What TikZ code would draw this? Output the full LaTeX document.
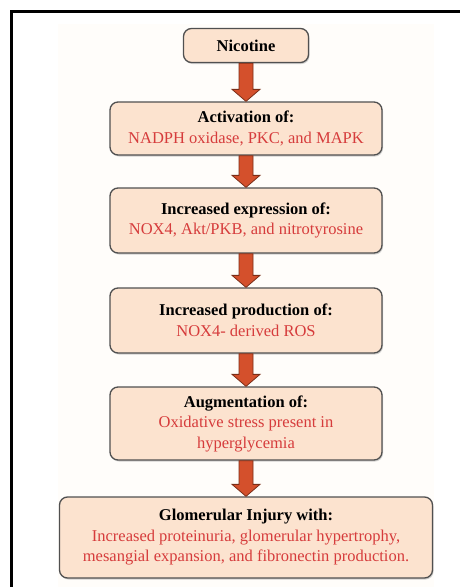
\documentclass[tikz,border=0pt]{standalone}
\usepackage{fontspec}
\setmainfont{Liberation Serif}
\usetikzlibrary{calc,shadows}
\definecolor{boxfill}{HTML}{FCE3CF}
\definecolor{boxline}{HTML}{505050}
\definecolor{txtred}{HTML}{D63C3C}
\definecolor{arrfill}{HTML}{D4502C}
\definecolor{arrline}{HTML}{7A2E18}
\definecolor{bgcream}{HTML}{FFFDFA}
\tikzset{
  flowbox/.style={draw=boxline, line width=1.3pt, fill=boxfill, rounded corners=8pt,
    align=center, inner sep=2pt, font=\fontsize{16.5}{20.5}\selectfont,
    drop shadow={shadow xshift=1pt, shadow yshift=-1.5pt, opacity=0.35}},
  blockarr/.style={fill=arrfill, draw=arrline, line width=0.8pt, line join=miter},
  frameline/.style={line width=3pt, black}
}
\newcommand\myarrow[2]{%
  \draw[blockarr] let \p1=(#1.south), \p2=(#2.north) in
    (\x1-7pt,\y1) -- (\x1+7pt,\y1) -- (\x1+7pt,\y2+12pt) -- (\x1+14pt,\y2+12pt)
    -- (\x1,\y2) -- (\x1-14pt,\y2+12pt) -- (\x1-7pt,\y2+12pt) -- cycle;}
\newcommand\hd[1]{{\bfseries #1}}
\newcommand\rd[1]{\textcolor{txtred}{#1}}
\begin{document}
\begin{tikzpicture}[x=1pt,y=1pt]
\useasboundingbox (0,0) rectangle (460,-587);
\fill[white] (0,0) rectangle (460,-587);
\fill[bgcream] (58,-24) rectangle (434,-587);
\draw[frameline] (462,-11) -- (11,-11) -- (11,-589);

\node[flowbox, minimum width=125pt, minimum height=34pt] (nic) at (246,-45.5) {\hd{Nicotine}};
\node[flowbox, minimum width=272pt, minimum height=53pt] (act) at (246,-128.5)
  {\hd{Activation of:}\\ \rd{NADPH oxidase, PKC, and MAPK}};
\node[flowbox, minimum width=272pt, minimum height=65pt] (exp) at (246,-220.5)
  {\hd{Increased expression of:}\\ \rd{NOX4, Akt/PKB, and nitrotyrosine}};
\node[flowbox, minimum width=272pt, minimum height=65pt] (prod) at (246,-320.5)
  {\hd{Increased production of:}\\ \rd{NOX4- derived ROS}};
\node[flowbox, minimum width=272pt, minimum height=73pt] (aug) at (246,-423.5)
  {\hd{Augmentation of:}\\ \rd{Oxidative stress present in}\\ \rd{hyperglycemia}};
\node[flowbox, minimum width=373pt, minimum height=81pt] (glom) at (246,-537.5)
  {\hd{Glomerular Injury with:}\\ \rd{Increased proteinuria, glomerular hypertrophy,}\\ \rd{mesangial expansion, and fibronectin production.}};

\myarrow{nic}{act}
\myarrow{act}{exp}
\myarrow{exp}{prod}
\myarrow{prod}{aug}
\myarrow{aug}{glom}
\end{tikzpicture}
\end{document}
